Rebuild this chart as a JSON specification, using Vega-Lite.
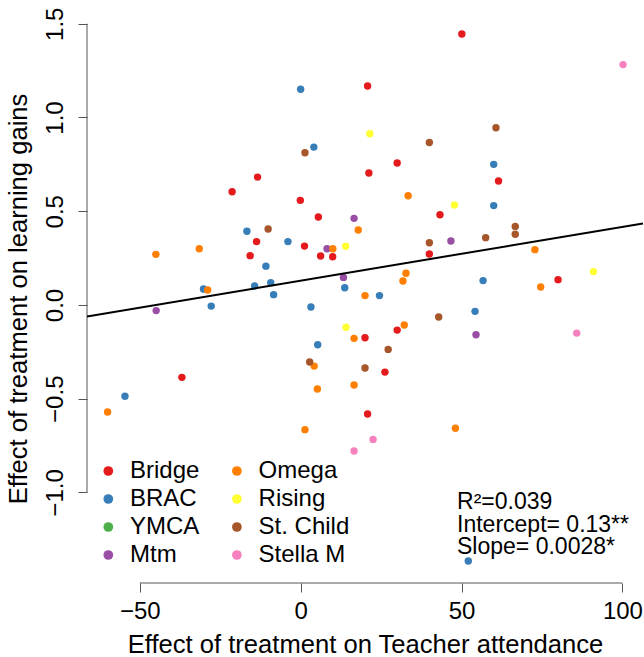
{
  "$schema": "https://vega.github.io/schema/vega-lite/v6.json",
  "width": 556,
  "height": 569,
  "autosize": "none",
  "padding": {"left": 87, "top": 14, "right": 1, "bottom": 74},
  "background": "white",
  "config": {"view": {"stroke": null}, "font": "Liberation Sans"},
  "datasets": {
    "pts": [
      {"g": "Bridge", "x": 50.1, "y": 1.445},
      {"g": "Bridge", "x": 20.8, "y": 1.168},
      {"g": "Bridge", "x": 30.0, "y": 0.757},
      {"g": "Bridge", "x": 21.2, "y": 0.704},
      {"g": "Bridge", "x": -13.4, "y": 0.682},
      {"g": "Bridge", "x": 61.5, "y": 0.661},
      {"g": "Bridge", "x": -21.3, "y": 0.604},
      {"g": "Bridge", "x": -0.1, "y": 0.558},
      {"g": "Bridge", "x": 43.3, "y": 0.481},
      {"g": "Bridge", "x": 5.5, "y": 0.469},
      {"g": "Bridge", "x": -13.7, "y": 0.338},
      {"g": "Bridge", "x": 1.2, "y": 0.314},
      {"g": "Bridge", "x": 40.0, "y": 0.272},
      {"g": "Bridge", "x": -15.7, "y": 0.263},
      {"g": "Bridge", "x": 6.2, "y": 0.261},
      {"g": "Bridge", "x": 9.95, "y": 0.257},
      {"g": "Bridge", "x": 80.0, "y": 0.135},
      {"g": "Bridge", "x": 30.0, "y": -0.134},
      {"g": "Bridge", "x": 20.0, "y": -0.175},
      {"g": "Bridge", "x": 26.2, "y": -0.358},
      {"g": "Bridge", "x": -36.9, "y": -0.386},
      {"g": "Bridge", "x": 20.8, "y": -0.582},
      {"g": "BRAC", "x": 0.0, "y": 1.151},
      {"g": "BRAC", "x": 4.1, "y": 0.842},
      {"g": "BRAC", "x": 60.0, "y": 0.75},
      {"g": "BRAC", "x": 60.0, "y": 0.53},
      {"g": "BRAC", "x": -16.7, "y": 0.393},
      {"g": "BRAC", "x": -3.95, "y": 0.338},
      {"g": "BRAC", "x": -10.8, "y": 0.207},
      {"g": "BRAC", "x": -30.2, "y": 0.085},
      {"g": "BRAC", "x": -14.3, "y": 0.101},
      {"g": "BRAC", "x": -9.3, "y": 0.119},
      {"g": "BRAC", "x": -8.4, "y": 0.055},
      {"g": "BRAC", "x": 13.7, "y": 0.092},
      {"g": "BRAC", "x": -27.8, "y": -0.006},
      {"g": "BRAC", "x": 3.2, "y": -0.011},
      {"g": "BRAC", "x": 5.3, "y": -0.212},
      {"g": "BRAC", "x": -54.6, "y": -0.487},
      {"g": "BRAC", "x": 56.7, "y": 0.13},
      {"g": "BRAC", "x": 24.5, "y": 0.05},
      {"g": "BRAC", "x": 54.2, "y": -0.034},
      {"g": "BRAC", "x": 52.1, "y": -1.366},
      {"g": "Mtm", "x": 16.6, "y": 0.462},
      {"g": "Mtm", "x": 8.2, "y": 0.30},
      {"g": "Mtm", "x": 13.3, "y": 0.147},
      {"g": "Mtm", "x": -44.9, "y": -0.03},
      {"g": "Mtm", "x": 46.7, "y": 0.341},
      {"g": "Mtm", "x": 54.5, "y": -0.159},
      {"g": "Omega", "x": 17.9, "y": 0.40},
      {"g": "Omega", "x": 10.0, "y": 0.30},
      {"g": "Omega", "x": -31.5, "y": 0.30},
      {"g": "Omega", "x": -45.0, "y": 0.27},
      {"g": "Omega", "x": -28.9, "y": 0.08},
      {"g": "Omega", "x": 16.6, "y": -0.178},
      {"g": "Omega", "x": 4.2, "y": -0.326},
      {"g": "Omega", "x": 5.2, "y": -0.448},
      {"g": "Omega", "x": 16.6, "y": -0.427},
      {"g": "Omega", "x": -60.0, "y": -0.571},
      {"g": "Omega", "x": 1.34, "y": -0.665},
      {"g": "Omega", "x": 33.4, "y": 0.583},
      {"g": "Omega", "x": 72.8, "y": 0.295},
      {"g": "Omega", "x": 32.75, "y": 0.169},
      {"g": "Omega", "x": 31.8, "y": 0.128},
      {"g": "Omega", "x": 74.6, "y": 0.096},
      {"g": "Omega", "x": 20.0, "y": 0.05},
      {"g": "Omega", "x": 32.2, "y": -0.107},
      {"g": "Omega", "x": 48.1, "y": -0.658},
      {"g": "Rising", "x": 14.0, "y": 0.313},
      {"g": "Rising", "x": 21.5, "y": 0.913},
      {"g": "Rising", "x": 47.8, "y": 0.533},
      {"g": "Rising", "x": 14.1, "y": -0.119},
      {"g": "Rising", "x": 91.0, "y": 0.178},
      {"g": "St. Child", "x": 1.34, "y": 0.812},
      {"g": "St. Child", "x": -10.1, "y": 0.405},
      {"g": "St. Child", "x": 60.7, "y": 0.945},
      {"g": "St. Child", "x": 40.0, "y": 0.867},
      {"g": "St. Child", "x": 66.7, "y": 0.419},
      {"g": "St. Child", "x": 66.7, "y": 0.377},
      {"g": "St. Child", "x": 40.0, "y": 0.332},
      {"g": "St. Child", "x": 57.5, "y": 0.359},
      {"g": "St. Child", "x": 2.8, "y": -0.304},
      {"g": "St. Child", "x": 42.9, "y": -0.064},
      {"g": "St. Child", "x": 27.2, "y": -0.237},
      {"g": "St. Child", "x": 20.0, "y": -0.336},
      {"g": "Stella M", "x": 100.2, "y": 1.282},
      {"g": "Stella M", "x": 16.6, "y": -0.779},
      {"g": "Stella M", "x": 85.8, "y": -0.15},
      {"g": "Stella M", "x": 22.5, "y": -0.717}
    ],
    "fit": [
      {"x": -66.4, "y": -0.061},
      {"x": 106.4, "y": 0.435}
    ]
  },
  "layer": [
    {
      "data": {"name": "pts"},
      "mark": {"type": "circle", "size": 55, "opacity": 1},
      "encoding": {
        "x": {
          "field": "x", "type": "quantitative",
          "scale": {"domain": [-66.4, 106.4], "nice": false, "zero": false},
          "axis": {
            "values": [-50, 0, 50, 100], "format": "d", "domain": false, "grid": false,
            "tickSize": 9, "tickColor": "#555555", "tickWidth": 1,
            "labelFontSize": 24, "labelColor": "black", "labelPadding": 7, "labelFlush": false, "labelOverlap": false,
            "title": "Effect of treatment on Teacher attendance", "titleFontSize": 25.6, "titleFontWeight": "normal",
            "titleColor": "black", "titlePadding": 9
          }
        },
        "y": {
          "field": "y", "type": "quantitative",
          "scale": {"domain": [-1.483, 1.552], "nice": false, "zero": false},
          "axis": {
            "values": [-1, -0.5, 0, 0.5, 1, 1.5], "format": ".1f", "domain": false, "grid": false,
            "tickSize": 9, "tickColor": "#555555", "tickWidth": 1,
            "labelFontSize": 24, "labelColor": "black", "labelPadding": 11, "labelAngle": -90,
            "labelAlign": "center", "labelBaseline": "bottom", "labelFlush": false, "labelOverlap": false,
            "title": "Effect of treatment on learning gains", "titleFontSize": 25.6, "titleFontWeight": "normal",
            "titleColor": "black", "titlePadding": 12
          }
        },
        "color": {
          "field": "g", "type": "nominal",
          "scale": {
            "domain": ["Bridge", "BRAC", "YMCA", "Mtm", "Omega", "Rising", "St. Child", "Stella M"],
            "range": ["#E41A1C", "#377EB8", "#4DAF4A", "#984EA3", "#FF7F00", "#FFFF33", "#A65628", "#F781BF"]
          },
          "legend": {
            "orient": "none", "legendX": 9.3, "legendY": 445, "columns": 2, "title": null,
            "labelFontSize": 24, "labelColor": "black", "symbolSize": 95, "symbolType": "circle",
            "symbolStrokeWidth": 0, "symbolOpacity": 1, "rowPadding": 4, "columnPadding": 24.6,
            "labelOffset": 9.7, "padding": 0
          }
        }
      }
    },
    {
      "data": {"values": [{}]},
      "mark": {"type": "rule", "stroke": "#555555", "strokeWidth": 1},
      "encoding": {
        "x": {"datum": -50, "type": "quantitative", "scale": {"domain": [-66.4, 106.4], "nice": false, "zero": false}},
        "x2": {"datum": 100},
        "y": {"datum": -1.483, "type": "quantitative", "scale": {"domain": [-1.483, 1.552], "nice": false, "zero": false}}
      }
    },
    {
      "data": {"values": [{}]},
      "mark": {"type": "rule", "stroke": "#555555", "strokeWidth": 1},
      "encoding": {
        "x": {"datum": -66.4, "type": "quantitative", "scale": {"domain": [-66.4, 106.4], "nice": false, "zero": false}},
        "y": {"datum": -1, "type": "quantitative", "scale": {"domain": [-1.483, 1.552], "nice": false, "zero": false}},
        "y2": {"datum": 1.5}
      }
    },
    {
      "data": {"name": "fit"},
      "mark": {"type": "line", "color": "black", "strokeWidth": 2, "clip": true},
      "encoding": {
        "x": {"field": "x", "type": "quantitative", "scale": {"domain": [-66.4, 106.4], "nice": false, "zero": false}},
        "y": {"field": "y", "type": "quantitative", "scale": {"domain": [-1.483, 1.552], "nice": false, "zero": false}}
      }
    },
    {
      "data": {"values": [{}]},
      "mark": {"type": "text", "align": "left", "baseline": "alphabetic", "fontSize": 23, "lineHeight": 22.5, "color": "black"},
      "encoding": {
        "x": {"datum": 48.6, "type": "quantitative", "scale": {"domain": [-66.4, 106.4], "nice": false, "zero": false}},
        "y": {"datum": -1.0896, "type": "quantitative", "scale": {"domain": [-1.483, 1.552], "nice": false, "zero": false}},
        "text": {"value": ["R²=0.039", "Intercept= 0.13**", "Slope= 0.0028*"]}
      }
    }
  ]
}
